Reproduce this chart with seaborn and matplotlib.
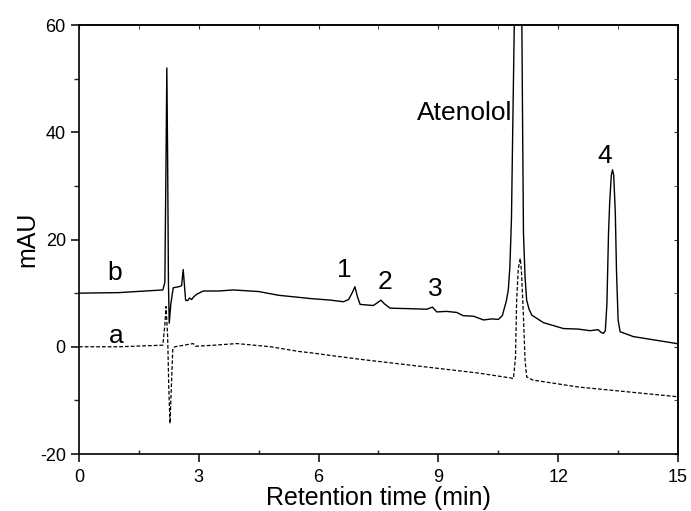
import matplotlib
matplotlib.use("Agg")
import pandas as pd
import seaborn as sns
import matplotlib.pyplot as plt
from matplotlib.ticker import MultipleLocator

# trace b (sample, solid): time (min), mAU
b_time = [0.0, 1.0, 2.1, 2.15, 2.18, 2.2, 2.22, 2.24, 2.26, 2.3, 2.36, 2.5, 2.57,
          2.61, 2.67, 2.72, 2.77, 2.82, 2.87, 2.95, 3.11, 3.5, 3.86, 4.5, 5.0,
          5.53, 5.78, 6.3, 6.62, 6.75, 6.85, 6.91, 6.97, 7.04, 7.37, 7.47, 7.56,
          7.65, 7.79, 8.3, 8.71, 8.85, 8.96, 9.2, 9.46, 9.62, 9.88, 10.13, 10.34,
          10.5, 10.6, 10.7, 10.75, 10.79, 10.83, 10.86, 10.9, 10.98, 11.09,
          11.11, 11.13, 11.17, 11.21, 11.27, 11.34, 11.63, 12.13, 12.5, 12.8,
          13.0, 13.07, 13.13, 13.18, 13.22, 13.26, 13.29, 13.33, 13.36, 13.39,
          13.43, 13.46, 13.5, 13.55, 13.7, 13.88, 14.3, 14.97]
b_mau = [10.0, 10.1, 10.6, 12.0, 35.0, 52.0, 35.0, 12.0, 4.4, 8.0, 11.0, 11.2, 11.4,
         14.4, 8.7, 8.6, 9.1, 8.8, 9.3, 9.8, 10.4, 10.4, 10.6, 10.3, 9.6,
         9.2, 9.0, 8.7, 8.4, 8.8, 10.2, 11.2, 9.4, 7.9, 7.7, 8.2, 8.7,
         8.0, 7.2, 7.1, 7.0, 7.4, 6.5, 6.6, 6.4, 5.8, 5.7, 5.0, 5.2,
         5.1, 5.8, 8.5, 10.6, 14.9, 24.0, 39.8, 60.0, 90.0, 60.0,
         40.0, 21.2, 13.0, 8.7, 7.0, 5.9, 4.5, 3.4, 3.3, 3.0,
         3.2, 2.7, 2.5, 3.0, 8.0, 21.2, 27.0, 32.0, 33.0, 32.0,
         25.0, 14.0, 5.0, 2.8, 2.4, 1.9, 1.4, 0.6]

# trace a (blank, dashed)
a_time = [0.0, 1.0, 2.1, 2.15, 2.18, 2.22, 2.25, 2.28, 2.31, 2.35, 2.4, 2.86, 2.92,
          3.4, 3.95, 4.8, 5.53, 5.78, 7.0, 8.5, 10.0, 10.88, 10.93, 10.96, 11.0,
          11.05, 11.08, 11.13, 11.17, 11.21, 11.36, 12.5, 14.97]
a_mau = [0.0, 0.0, 0.3, 4.0, 7.5, 2.0, -8.0, -14.3, -8.0, -0.3, 0.0, 0.6, 0.1,
         0.3, 0.6, 0.0, -0.9, -1.1, -2.3, -3.6, -4.9, -5.9, -2.0, 8.7, 14.5,
         16.5, 14.0, 5.6, -2.5, -5.6, -6.2, -7.5, -9.3]

peak_labels = ["b", "a", "1", "2", "3", "4", "Atenolol"]
label_x = [0.7, 0.75, 6.46, 7.49, 8.74, 12.97, 10.84]
label_y = [13.7, 2.0, 14.3, 12.1, 10.8, 35.6, 43.6]

sns.set_style("ticks")
plt.rcParams['font.family'] = ['Liberation Sans', 'DejaVu Sans']
plt.rcParams['axes.unicode_minus'] = False
plt.rcParams['text.color'] = 'black'
plt.rcParams['axes.labelcolor'] = 'black'

fig = plt.figure(figsize=(6.91, 5.11), dpi=100)
ax = fig.add_axes([0.1143, 0.1115, 0.8669, 0.8395])

df_b = pd.DataFrame({"time": b_time, "mAU": b_mau})
df_a = pd.DataFrame({"time": a_time, "mAU": a_mau})
sns.lineplot(data=df_b, x="time", y="mAU", ax=ax, color="black", lw=1.0,
             estimator=None, sort=False)
sns.lineplot(data=df_a, x="time", y="mAU", ax=ax, color="black", lw=0.9,
             estimator=None, sort=False, linestyle=(0, (3, 1.6)))

for txt, x, y in zip(peak_labels, label_x, label_y):
    ha = "right" if txt == "Atenolol" else "left"
    ax.text(x, y, txt, fontsize=19, ha=ha, va="center", color="black")

ax.set_xlim(0, 15)
ax.set_ylim(-20, 60)
ax.xaxis.set_major_locator(MultipleLocator(3))
ax.xaxis.set_minor_locator(MultipleLocator(1.5))
ax.yaxis.set_major_locator(MultipleLocator(20))
ax.yaxis.set_minor_locator(MultipleLocator(10))
ax.tick_params(which="major", direction="out", length=6, width=1.1,
               labelsize=13, colors="black")
ax.tick_params(axis="x", which="major", pad=5)
ax.tick_params(axis="y", which="minor", direction="out", length=3.5, width=1.0)
ax.tick_params(axis="x", which="minor", direction="in", length=3, width=1.0)

# inward ticks on the top and right frame
top = ax.secondary_xaxis("top")
top.xaxis.set_major_locator(MultipleLocator(3))
top.xaxis.set_minor_locator(MultipleLocator(1.5))
top.tick_params(which="both", direction="in", length=3, labeltop=False)
right = ax.secondary_yaxis("right")
right.yaxis.set_major_locator(MultipleLocator(20))
right.yaxis.set_minor_locator(MultipleLocator(10))
right.tick_params(which="both", direction="in", length=3, labelright=False)

for sp in ax.spines.values():
    sp.set_linewidth(1.2)
    sp.set_color("black")
for sp in list(top.spines.values()) + list(right.spines.values()):
    sp.set_linewidth(1.2)

ax.set_xlabel("Retention time (min)", fontsize=18, labelpad=0, color="black")
ax.set_ylabel("mAU", fontsize=18, labelpad=0, color="black")

fig.savefig("out.png", dpi=100)
